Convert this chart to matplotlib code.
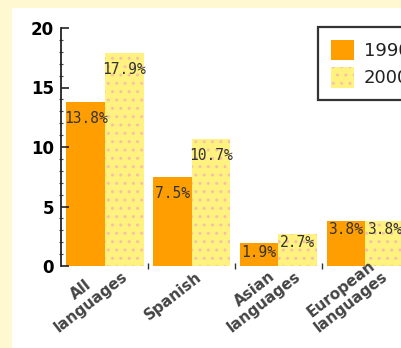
import numpy as np
import matplotlib
matplotlib.use('Agg')
from matplotlib import pyplot as plt
from matplotlib.patches import Rectangle

# data
categories = ['All\nlanguages', 'Spanish', 'Asian\nlanguages', 'European\nlanguages']
pct_1990 = [13.8, 7.5, 1.9, 3.8]
pct_2000 = [17.9, 10.7, 2.7, 3.8]
series_names = ['1990', '2000']

C1990 = '#FF9E00'
C2000 = '#FFF27E'
W, H = 401, 348

fig = plt.figure(figsize=(W / 100, H / 100), dpi=100, facecolor='#FFF8D0')
# white panel inside the cream border
fig.add_artist(Rectangle((12 / W, 0), 1, 1 - 8 / H, transform=fig.transFigure,
                         facecolor='white', edgecolor='none', zorder=0))

ax = fig.add_axes([61 / W, (H - 266) / H, (W - 61) / W, (266 - 28) / H])
ax.patch.set_alpha(0)

x = np.arange(len(categories))
bw = 0.445
b1 = ax.bar(x - bw / 2, pct_1990, bw, color=C1990, linewidth=0, clip_on=False)
b2 = ax.bar(x + bw / 2, pct_2000, bw, color=C2000, linewidth=0, clip_on=False,
            hatch='..', edgecolor='#F8C0A8')

# value labels inside the bars, near the top
for bars, vals in ((b1, pct_1990), (b2, pct_2000)):
    for r, v in zip(bars, vals):
        off = 1.4 if v > 5 else 0.75
        ax.text(r.get_x() + r.get_width() / 2, v - off, '{:.1f}%'.format(v),
                ha='center', va='center', fontsize=10.5, color='#333333',
                family='DejaVu Sans Mono', clip_on=False)

ax.set_ylim(0, 20)
ax.set_xlim(-0.5075, 3.414)
ax.set_yticks([0, 5, 10, 15, 20])
ax.set_yticks(np.arange(0, 21, 1), minor=True)
ax.tick_params(axis='y', which='major', direction='in', length=6, width=1.2,
               labelsize=12, pad=5, color='#222222')
ax.tick_params(axis='y', which='minor', direction='inout', length=3, width=0.8,
               color='#444444')
for lab in ax.get_yticklabels():
    lab.set_fontweight('bold')

# x axis: only small marks between the groups
ax.set_xticks([])
ax.set_xticks([0.5, 1.5, 2.5], minor=True)
ax.tick_params(axis='x', which='minor', direction='inout', length=4, width=1,
               color='#333333')
for s in ('top', 'right', 'bottom'):
    ax.spines[s].set_visible(False)
ax.spines['left'].set_linewidth(1.3)
ax.spines['left'].set_color('#222222')

# rotated category names
for xi, name in zip(x, categories):
    ax.text(xi - 0.22, -0.125, name, transform=ax.get_xaxis_transform(),
            rotation=38, rotation_mode='anchor', ha='center', va='center',
            multialignment='center', fontsize=11, fontweight='bold',
            color='#444444', linespacing=1.1)

leg = ax.legend([b1, b2], series_names, loc='upper left',
                bbox_to_anchor=(318 / W, 1 - 27 / H), bbox_transform=fig.transFigure,
                borderaxespad=0, borderpad=0.7, handlelength=1.3, handleheight=1.4,
                handletextpad=0.55, labelspacing=0.35, fontsize=13, fancybox=False,
                framealpha=1)
leg.get_frame().set_edgecolor('#333333')
leg.get_frame().set_linewidth(1.6)
for t in leg.get_texts():
    t.set_color('#222222')

plt.savefig('out.png', dpi=100, facecolor=fig.get_facecolor())
